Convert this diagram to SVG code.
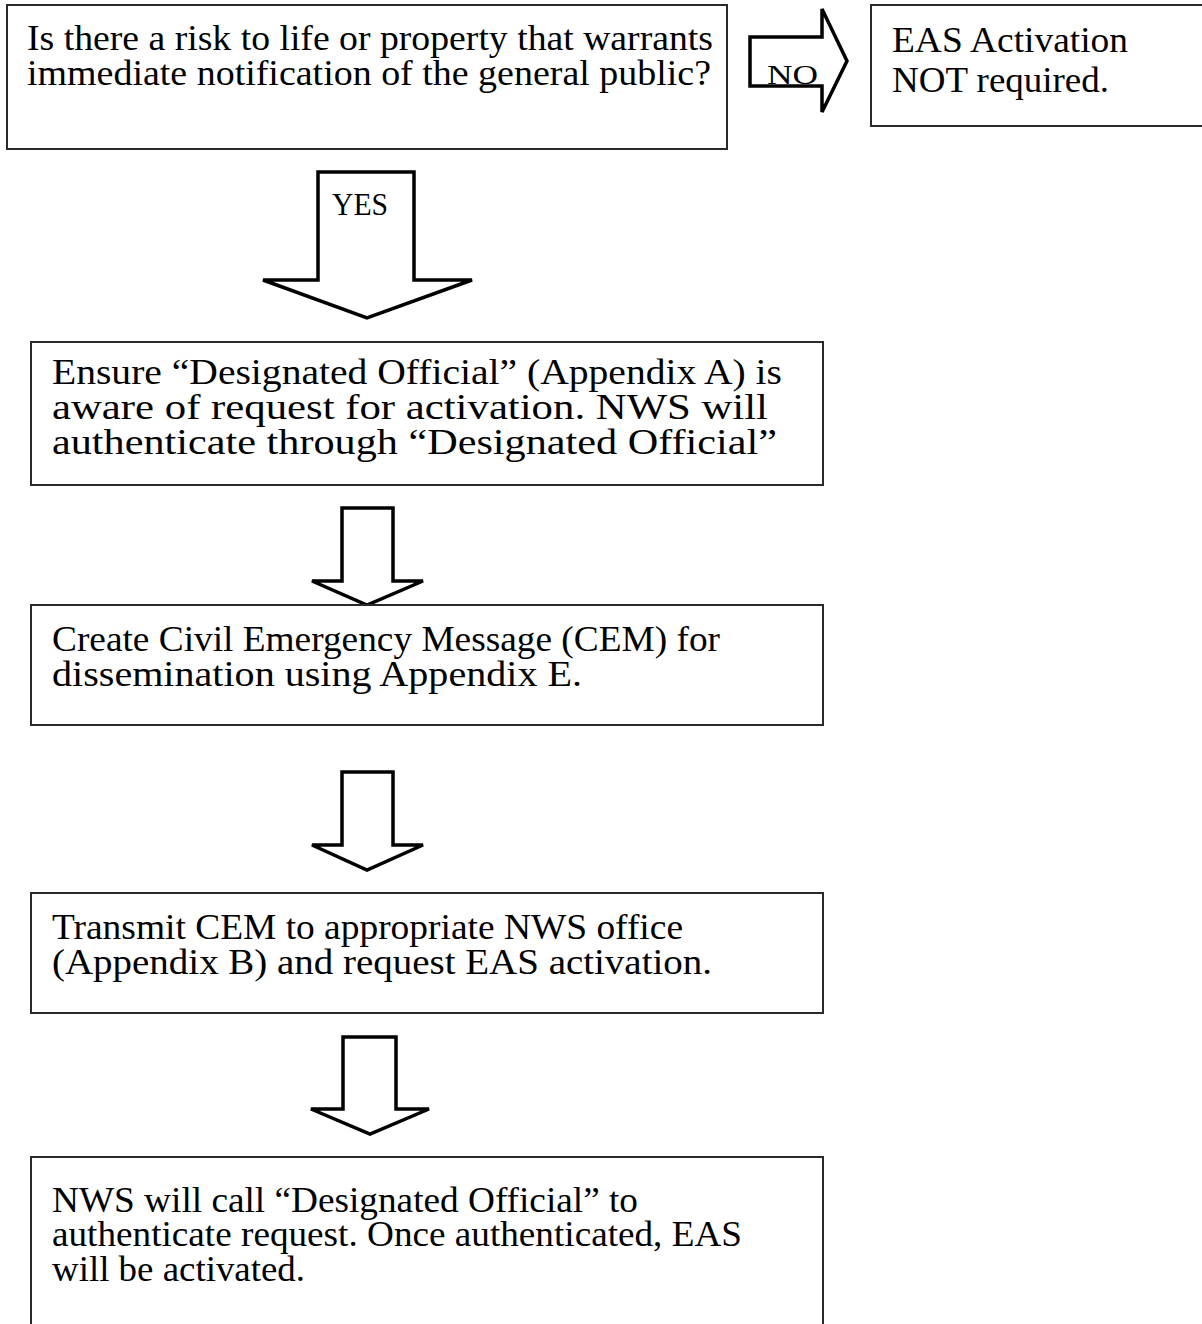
<svg xmlns="http://www.w3.org/2000/svg" width="1202" height="1324" viewBox="0 0 1202 1324">
<style>
.box{fill:#fff;stroke:#2a2a2a;stroke-width:2}
.arr{fill:#fff;stroke:#000;stroke-width:3.5;stroke-linejoin:miter}
.t{font-family:'Liberation Serif','Times New Roman',serif;font-size:35px;fill:#000}
.lbl{font-family:'Liberation Serif','Times New Roman',serif;fill:#000}
</style>
<rect width="1202" height="1324" fill="#fff"/>
<g id="connectors">
<g id="arrow-no">
<polygon class="arr" points="750,37 822,37 822,9 847,61 822,112 822,86 750,86"/>
<text class="lbl" x="767" y="84" font-size="28" textLength="51" lengthAdjust="spacingAndGlyphs">NO</text>
</g>
<g id="arrow-yes">
<polygon class="arr" points="318,172 414,172 414,280 472,280 367,318 263,280 318,280"/>
<text class="lbl" x="332" y="215" font-size="32" textLength="56" lengthAdjust="spacingAndGlyphs">YES</text>
</g>
<polygon id="arrow-2" class="arr" points="342,508 393,508 393,581 423,581 367,605 312,581 342,581"/>
<polygon id="arrow-3" class="arr" points="342,772 393,772 393,845 423,845 367,870 312,845 342,845"/>
<polygon id="arrow-4" class="arr" points="343,1037 396,1037 396,1109 429,1109 370,1134 311,1109 343,1109"/>
</g>
<g id="node-question">
<rect class="box" x="7" y="5" width="720" height="144"/>
<text class="t" x="27" y="50" textLength="686" lengthAdjust="spacingAndGlyphs">Is there a risk to life or property that warrants</text>
<text class="t" x="27" y="85" textLength="684" lengthAdjust="spacingAndGlyphs">immediate notification of the general public?</text>
</g>
<g id="node-no">
<rect class="box" x="871" y="5" width="345" height="121"/>
<text class="t" x="892" y="52" textLength="236" lengthAdjust="spacingAndGlyphs">EAS Activation</text>
<text class="t" x="892" y="92" textLength="217" lengthAdjust="spacingAndGlyphs">NOT required.</text>
</g>
<g id="node-ensure">
<rect class="box" x="31" y="342" width="792" height="143"/>
<text class="t" x="52" y="384" textLength="730" lengthAdjust="spacingAndGlyphs">Ensure “Designated Official” (Appendix A) is</text>
<text class="t" x="52" y="419" textLength="716" lengthAdjust="spacingAndGlyphs">aware of request for activation.  NWS will</text>
<text class="t" x="52" y="454" textLength="725" lengthAdjust="spacingAndGlyphs">authenticate through “Designated Official”</text>
</g>
<g id="node-create">
<rect class="box" x="31" y="605" width="792" height="120"/>
<text class="t" x="52" y="651" textLength="668" lengthAdjust="spacingAndGlyphs">Create Civil Emergency Message (CEM) for</text>
<text class="t" x="52" y="686" textLength="530" lengthAdjust="spacingAndGlyphs">dissemination using Appendix E.</text>
</g>
<g id="node-transmit">
<rect class="box" x="31" y="893" width="792" height="120"/>
<text class="t" x="52" y="939" textLength="631" lengthAdjust="spacingAndGlyphs">Transmit CEM to appropriate NWS office</text>
<text class="t" x="52" y="974" textLength="660" lengthAdjust="spacingAndGlyphs">(Appendix B) and request EAS activation.</text>
</g>
<g id="node-call">
<rect class="box" x="31" y="1157" width="792" height="180"/>
<text class="t" x="52" y="1212" textLength="586" lengthAdjust="spacingAndGlyphs">NWS will call “Designated Official” to</text>
<text class="t" x="52" y="1246" textLength="690" lengthAdjust="spacingAndGlyphs">authenticate request. Once authenticated, EAS</text>
<text class="t" x="52" y="1281" textLength="253" lengthAdjust="spacingAndGlyphs">will be activated.</text>
</g>
</svg>
